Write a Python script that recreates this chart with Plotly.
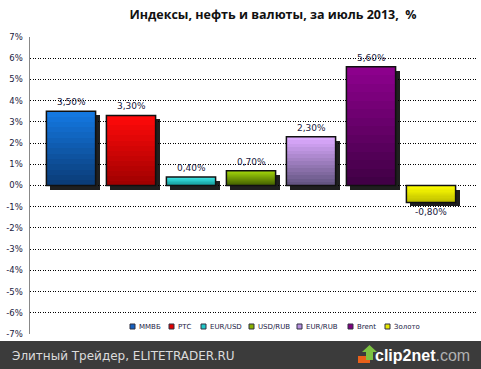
import plotly.graph_objects as go

# ---- data ----
series = ["ММВБ", "РТС", "EUR/USD", "USD/RUB", "EUR/RUB", "Brent", "Золото"]
values = [3.5, 3.3, 0.4, 0.7, 2.3, 5.6, -0.8]
labels = ["3,50%", "3,30%", "0,40%", "0,70%", "2,30%", "5,60%", "-0,80%"]
tick_vals = [7, 6, 5, 4, 3, 2, 1, 0, -1, -2, -3, -4, -5, -6, -7]
tick_text = ["7%", "6%", "5%", "4%", "3%", "2%", "1%", "0%", "-1%", "-2%", "-3%", "-4%", "-5%", "-6%", "-7%"]

# gradient colours (light top, dark bottom)
light = [(20, 120, 225), (255, 10, 10), (60, 235, 235), (160, 210, 10), (220, 170, 255), (140, 0, 140), (255, 255, 0)]
dark = [(10, 60, 120), (160, 0, 0), (20, 150, 150), (70, 100, 0), (100, 85, 130), (65, 0, 70), (190, 190, 0)]
legend_col = ["#1560c0", "#e00000", "#20c8c8", "#88b000", "#b890e0", "#800080", "#e8e800"]

W, H = 481, 369
L, R, T, B = 30, 3, 37, 35
PW, PH = W - L - R, H - T - B
def px(x): return (x - L) / PW
def py(y): return (H - B - y) / PH

BW = 0.82
SHX = 4 / 60
SHY = 4 * 14 / PH
N = 14

fig = go.Figure()

# shadows
for i, v in enumerate(values):
    fig.add_trace(go.Bar(x=[i + SHX], y=[v], base=[-SHY], width=BW,
                         marker=dict(color="rgba(0,0,0,0.88)", line=dict(width=0)),
                         showlegend=False, hoverinfo="skip"))

def mix(a, b, t):
    return "rgb(%d,%d,%d)" % tuple(round(a[k] + (b[k] - a[k]) * t) for k in range(3))

# gradient segments (light at screen top, dark at screen bottom)
for i, v in enumerate(values):
    step = v / N
    for k in range(N):
        frac_top = k / (N - 1) if v >= 0 else 1 - k / (N - 1)
        col = mix(dark[i], light[i], frac_top)
        fig.add_trace(go.Bar(x=[i], y=[step * 1.0001], base=[step * k], width=BW,
                             marker=dict(color=col, line=dict(width=0)),
                             showlegend=False, hoverinfo="skip"))

# outlines
for i, v in enumerate(values):
    fig.add_trace(go.Bar(x=[i], y=[v], width=BW, name=series[i],
                         marker=dict(color="rgba(0,0,0,0)", line=dict(color="#101010", width=1.5)),
                         showlegend=False, hoverinfo="skip"))
    # data labels
    fig.add_annotation(x=i, y=v, text=labels[i], showarrow=False,
                       yanchor="middle", yshift=9 if v >= 0 else -10,
                       font=dict(family="DejaVu Sans", size=9, color="#1a1a40"))

fig.update_layout(
    width=W, height=H,
    margin=dict(l=L, r=R, t=T, b=B, autoexpand=False),
    paper_bgcolor="white", plot_bgcolor="white",
    barmode="overlay", bargap=0,
    showlegend=False,
    title=dict(text="Индексы, нефть и валюты, за июль 2013,  %",
               font=dict(family="Open Sans", size=12.5, color="#111111", weight="bold"),
               x=273 / W, xanchor="center", y=1 - 15 / H, yanchor="middle", yref="container"),
    xaxis=dict(range=[-(71 - 30) / 60, (478 - 71) / 60], showticklabels=False, showgrid=False,
               zeroline=False, showline=False, fixedrange=True, automargin=False),
    yaxis=dict(range=[-7, 7], tickvals=tick_vals, ticktext=tick_text,
               tickfont=dict(family="DejaVu Sans", size=8.5, color="#1a1a40"),
               showgrid=True, gridcolor="#000000", griddash="1px,1.5px", gridwidth=1,
               zeroline=False, showline=True, linecolor="#888888", linewidth=1.5,
               ticks="", ticklabelstandoff=4, automargin=False, fixedrange=True),
    font=dict(family="DejaVu Sans"),
)

# manual legend
leg_x = [130, 169, 201, 249, 297, 348, 385]
for i, name in enumerate(series):
    x0 = leg_x[i]
    fig.add_shape(type="rect", xref="paper", yref="paper",
                  x0=px(x0), x1=px(x0 + 5), y0=py(329), y1=py(324),
                  fillcolor=legend_col[i], line=dict(color="#303040", width=1), layer="above")
    fig.add_annotation(xref="paper", yref="paper", x=px(x0 + 7), y=py(326.5),
                       xanchor="left", yanchor="middle", text=name, showarrow=False,
                       font=dict(family="DejaVu Sans", size=7, color="#222244"))

# footer band
fig.add_shape(type="rect", xref="paper", yref="paper",
              x0=px(0), x1=px(W), y0=py(H), y1=py(341),
              fillcolor="#3b3b3b", line=dict(width=0), layer="above")
fig.add_annotation(xref="paper", yref="paper", x=px(10), y=py(356), xanchor="left", yanchor="middle",
                   text="Элитный Трейдер, ELITETRADER.RU", showarrow=False,
                   font=dict(family="DejaVu Sans", size=12, color="#dcdcdc"))
fig.add_annotation(xref="paper", yref="paper", x=px(472), y=py(355), xanchor="right", yanchor="middle",
                   text="<b>clip2net</b><span style='color:#b0b0b0'>.com</span>", showarrow=False,
                   font=dict(family="Liberation Sans", size=16, color="#ffffff"))
# logo icon
fig.add_shape(type="rect", xref="paper", yref="paper", x0=px(358), x1=px(370), y0=py(363), y1=py(356),
              fillcolor="#e8601a", line=dict(width=0), layer="above")
fig.add_shape(type="path", xref="paper", yref="paper", layer="above",
              path="M %f,%f L %f,%f L %f,%f L %f,%f L %f,%f L %f,%f L %f,%f Z" % (
                  px(366), py(360), px(366), py(352), px(362), py(352), px(369.5), py(345),
                  px(377), py(352), px(373), py(352), px(373), py(360)),
              fillcolor="#7cc242", line=dict(width=0))

fig.write_html("out.html", config={"displayModeBar": False, "staticPlot": True},
               post_script="document.body.style.margin='0';document.body.style.overflow='hidden';")
